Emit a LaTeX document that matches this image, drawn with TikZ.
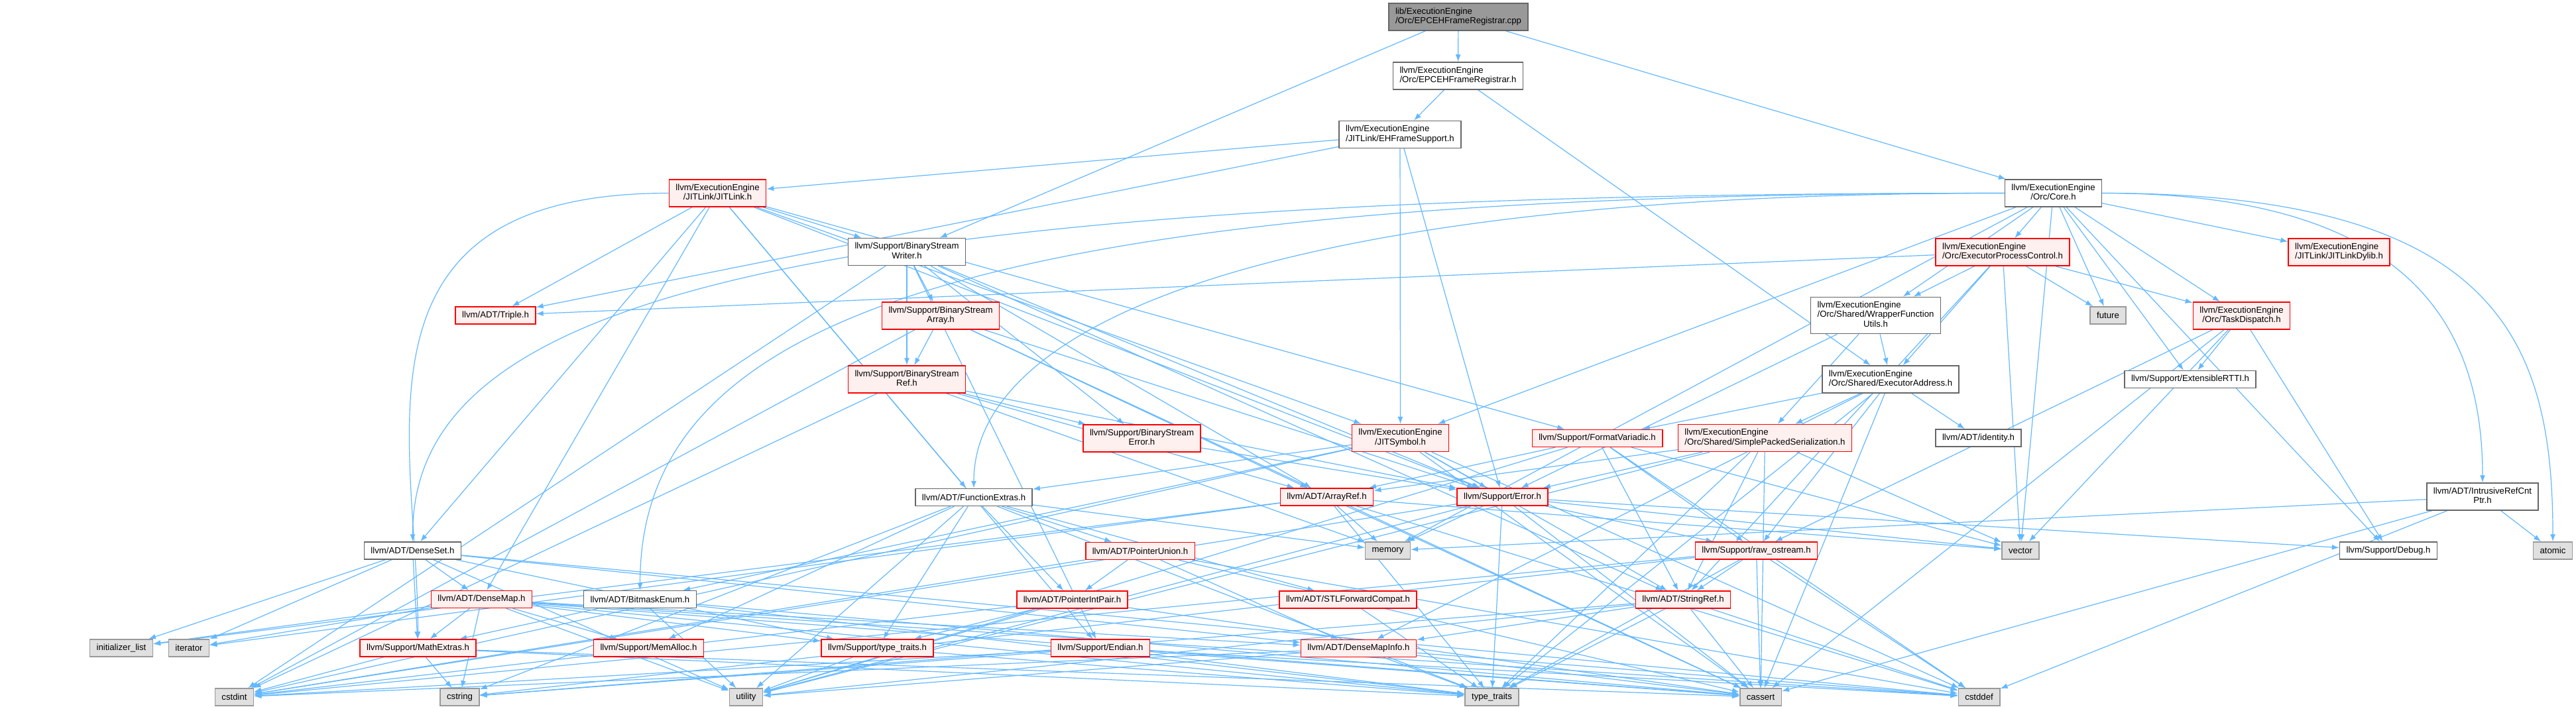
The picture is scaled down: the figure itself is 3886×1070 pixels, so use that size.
\documentclass[tikz,border=0pt]{standalone}
\usepackage{fontspec}
\setmainfont{Liberation Sans}
\usetikzlibrary{arrows.meta}

\definecolor{edgeblue}{HTML}{63B8FF}
\definecolor{grey40}{HTML}{666666}
\definecolor{grey60}{HTML}{999999}
\definecolor{truncfill}{HTML}{FFF0F0}
\definecolor{sysfill}{HTML}{E0E0E0}
\definecolor{truncred}{HTML}{FF0000}

\pgfdeclarelayer{background}
\pgfsetlayers{background,main}

\newcommand{\lbl}[2]{\begin{tabular}{@{}l@{}}#1\\\multicolumn{1}{@{}c@{}}{#2}\end{tabular}}

\begin{document}
\begin{tikzpicture}[
    x=1pt, y=-1pt,
    font=\fontsize{13.2}{14.3}\selectfont,
    file/.style={draw=grey40, line width=1.5pt, fill=white, inner xsep=10pt, inner ysep=6.2pt, minimum height=26pt},
    rootfile/.style={file, fill=grey60},
    truncfile/.style={file, draw=truncred, fill=truncfill},
    sysfile/.style={file, draw=grey60, fill=sysfill},
    dep/.style={-{Latex[length=11pt,width=8pt]}, draw=edgeblue, line width=1.2pt}
]
    \useasboundingbox (0,0) rectangle (3886,1070);

    \node[rootfile] (root) at (2200,25.5) {\lbl{lib/ExecutionEngine}{/Orc/EPCEHFrameRegistrar.cpp}};
    \node[file] (epch) at (2199.5,114.5) {\lbl{llvm/ExecutionEngine}{/Orc/EPCEHFrameRegistrar.h}};
    \node[file] (ehfs) at (2112,203) {\lbl{llvm/ExecutionEngine}{/JITLink/EHFrameSupport.h}};
    \node[truncfile] (jitlink) at (1082.5,291.5) {\lbl{llvm/ExecutionEngine}{/JITLink/JITLink.h}};
    \node[file] (core) at (3097.5,291.5) {\lbl{llvm/ExecutionEngine}{/Orc/Core.h}};
    \node[file] (bswriter) at (1368,380) {\lbl{llvm/Support/BinaryStream}{Writer.h}};
    \node[truncfile] (epc) at (3021,380.5) {\lbl{llvm/ExecutionEngine}{/Orc/ExecutorProcessControl.h}};
    \node[truncfile] (jldylib) at (3528.5,380.5) {\lbl{llvm/ExecutionEngine}{/JITLink/JITLinkDylib.h}};
    \node[truncfile] (triple) at (747.5,476) {llvm/ADT/Triple.h};
    \node[truncfile] (bsarray) at (1419,476.5) {\lbl{llvm/Support/BinaryStream}{Array.h}};
    \node[sysfile] (future) at (3180,476) {future};
    \node[truncfile] (taskdisp) at (3381.5,476.5) {\lbl{llvm/ExecutionEngine}{/Orc/TaskDispatch.h}};
    \node[file] (wfu) at (2829.5,476) {\lbl{llvm/ExecutionEngine\\/Orc/Shared/WrapperFunction}{Utils.h}};
    \node[file] (extrtti) at (3304,572.5) {llvm/Support/ExtensibleRTTI.h};
    \node[truncfile] (bsref) at (1368,572.5) {\lbl{llvm/Support/BinaryStream}{Ref.h}};
    \node[file] (execaddr) at (2852,572.5) {\lbl{llvm/ExecutionEngine}{/Orc/Shared/ExecutorAddress.h}};
    \node[truncfile] (bserror) at (1722.5,661.5) {\lbl{llvm/Support/BinaryStream}{Error.h}};
    \node[truncfile] (jitsym) at (2112.5,661) {\lbl{llvm/ExecutionEngine}{/JITSymbol.h}};
    \node[truncfile] (fmtvar) at (2409.5,661.5) {llvm/Support/FormatVariadic.h};
    \node[truncfile] (sps) at (2662.5,661) {\lbl{llvm/ExecutionEngine}{/Orc/Shared/SimplePackedSerialization.h}};
    \node[file] (identity) at (2984.5,661) {llvm/ADT/identity.h};
    \node[file] (irc) at (3745,749.5) {\lbl{llvm/ADT/IntrusiveRefCnt}{Ptr.h}};
    \node[file] (funcext) at (1469,750.5) {llvm/ADT/FunctionExtras.h};
    \node[truncfile] (arrayref) at (2001.5,750) {llvm/ADT/ArrayRef.h};
    \node[truncfile] (error) at (2266.5,750) {llvm/Support/Error.h};
    \node[sysfile] (memory) at (2093.5,831) {memory};
    \node[sysfile] (vector) at (3048,831) {vector};
    \node[file] (debug) at (3603,831) {llvm/Support/Debug.h};
    \node[sysfile] (atomic) at (3851,831) {atomic};
    \node[file] (denseset) at (622.5,831) {llvm/ADT/DenseSet.h};
    \node[truncfile] (ptrunion) at (1720,831.5) {llvm/ADT/PointerUnion.h};
    \node[truncfile] (rawos) at (2649.5,831) {llvm/Support/raw\_ostream.h};
    \node[file] (bitmask) at (965.5,904.5) {llvm/ADT/BitmaskEnum.h};
    \node[truncfile] (densemap) at (726.5,904.5) {llvm/ADT/DenseMap.h};
    \node[truncfile] (ptrintpair) at (1617.5,905) {llvm/ADT/PointerIntPair.h};
    \node[truncfile] (stlfwd) at (2033.5,905) {llvm/ADT/STLForwardCompat.h};
    \node[truncfile] (stringref) at (2539,905) {llvm/ADT/StringRef.h};
    \node[sysfile] (initlist) at (183,978) {initializer\_list};
    \node[sysfile] (iterator) at (285,978) {iterator};
    \node[truncfile] (mathext) at (630.5,978) {llvm/Support/MathExtras.h};
    \node[truncfile] (memalloc) at (978.5,978) {llvm/Support/MemAlloc.h};
    \node[truncfile] (typetraitsh) at (1323.5,978) {llvm/Support/type\_traits.h};
    \node[truncfile] (endian) at (1660,978) {llvm/Support/Endian.h};
    \node[truncfile] (dmi) at (2049.5,978.5) {llvm/ADT/DenseMapInfo.h};
    \node[sysfile] (cstdint) at (353.5,1052) {cstdint};
    \node[sysfile] (cstring) at (693.5,1052) {cstring};
    \node[sysfile] (utility) at (1125.5,1052) {utility};
    \node[sysfile] (typetraits) at (2250.5,1052) {type\_traits};
    \node[sysfile] (cassert) at (2656,1052) {cassert};
    \node[sysfile] (cstddef) at (2985.5,1052) {cstddef};

    \begin{pgfonlayer}{background}
    \draw[dep] (root) -- (epch);
    \draw[dep] (root) -- (core);
    \draw[dep] (root) -- (bswriter);
    \draw[dep] (epch) -- (ehfs);
    \draw[dep] (epch) -- (execaddr);
    \draw[dep] (ehfs) -- (jitlink);
    \draw[dep] (ehfs) -- (triple);
    \draw[dep] (ehfs) -- (jitsym);
    \draw[dep] (ehfs) -- (error);
    \draw[dep] (jitlink) -- (triple);
    \draw[dep] (jitlink) -- (denseset);
    \draw[dep] (jitlink) -- (densemap);
    \draw[dep] (jitlink) -- (funcext);
    \draw[dep] (jitlink) -- (jitsym);
    \draw[dep] (jitlink) -- (bswriter);
    \draw[dep] (jitlink.west) .. controls +(-500,0) and +(0,-300) .. (mathext.north);
    \draw[dep] (jitlink) -- (endian);
    \draw[dep] (jitlink) -- (error);
    \draw[dep] (jitlink) -- (fmtvar);
    \draw[dep] (core) -- (epc);
    \draw[dep] (core) -- (jldylib);
    \draw[dep] (core) -- (future);
    \draw[dep] (core) -- (extrtti);
    \draw[dep] (core) -- (taskdisp);
    \draw[dep] (core.east) .. controls +(450,0) and +(0,-250) .. (irc.north);
    \draw[dep] (core.east) .. controls +(600,0) and +(0,-300) .. (atomic.north);
    \draw[dep] (core) -- (debug);
    \draw[dep] (core) -- (wfu);
    \draw[dep] (core.west) .. controls +(-1900,0) and +(0,-350) .. (denseset.north);
    \draw[dep] (core.west) .. controls +(-1600,0) and +(0,-400) .. (bitmask.north);
    \draw[dep] (core.west) .. controls +(-1100,0) and +(0,-250) .. (funcext.north);
    \draw[dep] (core) -- (jitsym);
    \draw[dep] (core) -- (memory);
    \draw[dep] (core) -- (vector);
    \draw[dep] (epc) -- (triple);
    \draw[dep] (epc) -- (wfu);
    \draw[dep] (epc) -- (execaddr);
    \draw[dep] (epc) -- (future);
    \draw[dep] (epc) -- (taskdisp);
    \draw[dep] (epc) -- (stringref);
    \draw[dep] (epc) -- (vector);
    \draw[dep] (taskdisp) -- (extrtti);
    \draw[dep] (taskdisp) -- (debug);
    \draw[dep] (taskdisp) -- (rawos);
    \draw[dep] (taskdisp) -- (cassert);
    \draw[dep] (taskdisp) -- (vector);
    \draw[dep] (wfu) -- (execaddr);
    \draw[dep] (wfu) -- (sps);
    \draw[dep] (wfu) -- (error);
    \draw[dep] (execaddr) -- (fmtvar);
    \draw[dep] (execaddr) -- (sps);
    \draw[dep] (execaddr) -- (identity);
    \draw[dep] (execaddr) -- (rawos);
    \draw[dep] (execaddr) -- (dmi);
    \draw[dep] (execaddr) -- (cassert);
    \draw[dep] (execaddr) -- (typetraits);
    \draw[dep] (sps) -- (arrayref);
    \draw[dep] (sps) -- (error);
    \draw[dep] (sps) -- (stringref);
    \draw[dep] (sps) -- (vector);
    \draw[dep] (sps) -- (cassert);
    \draw[dep] (sps) -- (typetraits);
    \draw[dep] (sps) -- (utility);
    \draw[dep] (fmtvar) -- (arrayref);
    \draw[dep] (fmtvar) -- (stringref);
    \draw[dep] (fmtvar) -- (rawos);
    \draw[dep] (fmtvar) -- (cstddef);
    \draw[dep] (fmtvar) -- (utility);
    \draw[dep] (fmtvar) -- (vector);
    \draw[dep] (jitsym) -- (bitmask);
    \draw[dep] (jitsym) -- (funcext);
    \draw[dep] (jitsym) -- (stringref);
    \draw[dep] (jitsym) -- (error);
    \draw[dep] (jitsym) -- (cassert);
    \draw[dep] (jitsym) -- (cstddef);
    \draw[dep] (jitsym) -- (cstdint);
    \draw[dep] (bswriter) -- (bsarray);
    \draw[dep] (bswriter) -- (bsref);
    \draw[dep] (bswriter) -- (bserror);
    \draw[dep] (bswriter) -- (arrayref);
    \draw[dep] (bswriter) -- (stringref);
    \draw[dep] (bswriter) -- (endian);
    \draw[dep] (bswriter) -- (error);
    \draw[dep] (bswriter) -- (cstdint);
    \draw[dep] (bsarray) -- (bsref);
    \draw[dep] (bsarray) -- (arrayref);
    \draw[dep] (bsarray) -- (error);
    \draw[dep] (bsarray) -- (cassert);
    \draw[dep] (bsarray) -- (cstdint);
    \draw[dep] (bsref) -- (bserror);
    \draw[dep] (bsref) -- (arrayref);
    \draw[dep] (bsref) -- (error);
    \draw[dep] (bsref) -- (memory);
    \draw[dep] (bsref) -- (cstdint);
    \draw[dep] (bserror) -- (error);
    \draw[dep] (error) -- (memory);
    \draw[dep] (error) -- (rawos);
    \draw[dep] (error) -- (debug);
    \draw[dep] (error) -- (vector);
    \draw[dep] (error) -- (cassert);
    \draw[dep] (error) -- (cstdint);
    \draw[dep] (error) -- (typetraits);
    \draw[dep] (error) -- (utility);
    \draw[dep] (rawos) -- (stringref);
    \draw[dep] (rawos) -- (cassert);
    \draw[dep] (rawos) -- (cstddef);
    \draw[dep] (rawos) -- (cstdint);
    \draw[dep] (rawos) -- (cstring);
    \draw[dep] (rawos) -- (typetraits);
    \draw[dep] (stringref) -- (dmi);
    \draw[dep] (stringref) -- (cassert);
    \draw[dep] (stringref) -- (cstddef);
    \draw[dep] (stringref) -- (cstring);
    \draw[dep] (stringref) -- (typetraits);
    \draw[dep] (stringref) -- (utility);
    \draw[dep] (arrayref) -- (memory);
    \draw[dep] (arrayref) -- (vector);
    \draw[dep] (arrayref) -- (initlist);
    \draw[dep] (arrayref) -- (iterator);
    \draw[dep] (arrayref) -- (cassert);
    \draw[dep] (arrayref) -- (cstddef);
    \draw[dep] (arrayref) -- (typetraits);
    \draw[dep] (funcext) -- (ptrunion);
    \draw[dep] (funcext) -- (ptrintpair);
    \draw[dep] (funcext) -- (stlfwd);
    \draw[dep] (funcext) -- (memalloc);
    \draw[dep] (funcext) -- (typetraitsh);
    \draw[dep] (funcext) -- (cstring);
    \draw[dep] (funcext) -- (memory);
    \draw[dep] (funcext) -- (typetraits);
    \draw[dep] (funcext) -- (utility);
    \draw[dep] (ptrunion) -- (ptrintpair);
    \draw[dep] (ptrunion) -- (dmi);
    \draw[dep] (ptrunion) -- (cassert);
    \draw[dep] (ptrunion) -- (cstddef);
    \draw[dep] (ptrunion) -- (cstdint);
    \draw[dep] (ptrintpair) -- (typetraitsh);
    \draw[dep] (ptrintpair) -- (cassert);
    \draw[dep] (ptrintpair) -- (cstdint);
    \draw[dep] (ptrintpair) -- (utility);
    \draw[dep] (denseset) -- (densemap);
    \draw[dep] (denseset) -- (dmi);
    \draw[dep] (denseset) -- (mathext);
    \draw[dep] (denseset) -- (typetraitsh);
    \draw[dep] (denseset) -- (initlist);
    \draw[dep] (denseset) -- (iterator);
    \draw[dep] (denseset) -- (cstddef);
    \draw[dep] (denseset) -- (utility);
    \draw[dep] (densemap) -- (dmi);
    \draw[dep] (densemap) -- (mathext);
    \draw[dep] (densemap) -- (memalloc);
    \draw[dep] (densemap) -- (typetraitsh);
    \draw[dep] (densemap) -- (initlist);
    \draw[dep] (densemap) -- (iterator);
    \draw[dep] (densemap) -- (cassert);
    \draw[dep] (densemap) -- (cstddef);
    \draw[dep] (densemap) -- (cstring);
    \draw[dep] (densemap) -- (typetraits);
    \draw[dep] (densemap) -- (utility);
    \draw[dep] (bitmask) -- (mathext);
    \draw[dep] (bitmask) -- (cassert);
    \draw[dep] (bitmask) -- (typetraits);
    \draw[dep] (bitmask) -- (utility);
    \draw[dep] (mathext) -- (cstdint);
    \draw[dep] (mathext) -- (cstring);
    \draw[dep] (mathext) -- (cassert);
    \draw[dep] (mathext) -- (typetraits);
    \draw[dep] (typetraitsh) -- (typetraits);
    \draw[dep] (typetraitsh) -- (utility);
    \draw[dep] (endian) -- (cassert);
    \draw[dep] (endian) -- (cstddef);
    \draw[dep] (endian) -- (cstdint);
    \draw[dep] (endian) -- (cstring);
    \draw[dep] (endian) -- (typetraits);
    \draw[dep] (dmi) -- (cassert);
    \draw[dep] (dmi) -- (cstddef);
    \draw[dep] (dmi) -- (cstdint);
    \draw[dep] (dmi) -- (typetraits);
    \draw[dep] (dmi) -- (utility);
    \draw[dep] (stlfwd) -- (typetraits);
    \draw[dep] (irc) -- (atomic);
    \draw[dep] (irc) -- (cassert);
    \draw[dep] (irc) -- (cstddef);
    \draw[dep] (irc) -- (memory);
    \end{pgfonlayer}
\end{tikzpicture}
\end{document}
